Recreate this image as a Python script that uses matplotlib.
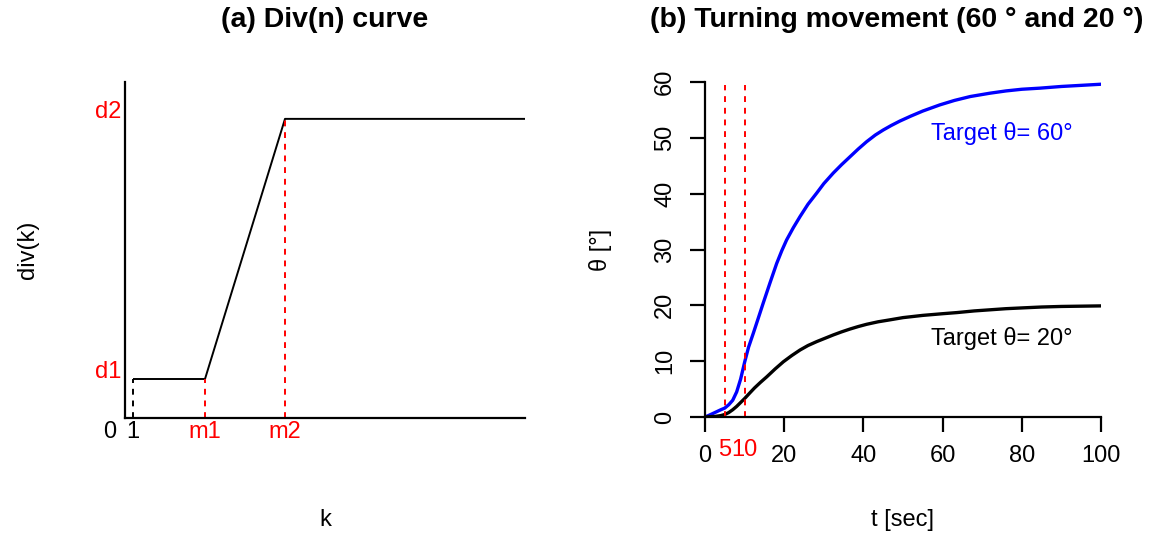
import numpy as np
import matplotlib
matplotlib.use("Agg")
import matplotlib.pyplot as plt
from matplotlib.transforms import blended_transform_factory

plt.rcParams["font.family"] = ["Liberation Sans", "DejaVu Sans"]

#========= Data =========
# (a) Div(n) curve
d1, d2 = 1.0, 7.67
m1, m2 = 10, 20
k_end = 50
div_k = [1, m1, m2, k_end]
div_v = [d1, d1, d2, d2]

# (b) turning movement
t_blue = [0, 1, 2.5, 4, 5, 6, 7, 8, 9, 10, 11, 12.2, 13.5, 14.7, 16.4, 18.1,
          19.4, 20.6, 22.3, 24, 26, 28.2, 30, 32.4, 34.5, 36.6, 38.7, 40.8,
          43, 45, 47, 49.2, 52, 55, 59.3, 63, 67, 72, 76, 80, 84.6, 90, 95, 100]
theta_60 = [0, 0.3, 0.8, 1.3, 1.6, 2.2, 3.0, 4.5, 6.8, 9.8, 12.5, 15.0, 17.8,
            20.4, 24.0, 27.5, 29.8, 31.7, 33.9, 35.9, 38.1, 40.1, 41.8, 43.7,
            45.2, 46.6, 48.0, 49.3, 50.5, 51.4, 52.2, 53.0, 53.9, 54.8, 55.9,
            56.7, 57.4, 58.0, 58.4, 58.7, 58.9, 59.2, 59.4, 59.6]
t_black = [0, 2.5, 4, 5, 6, 7, 8, 9, 10, 11.3, 12.5, 14, 15.6, 17.7, 19.8,
           21.9, 24, 26, 28.2, 30.3, 32.4, 34.5, 36.6, 38.7, 40.8, 43.7, 46.7,
           50, 55, 60, 63.6, 68, 72, 76, 80.4, 85, 90, 95, 100]
theta_20 = [0, 0.1, 0.25, 0.45, 0.8, 1.3, 1.9, 2.6, 3.3, 4.3, 5.2, 6.2, 7.2,
            8.6, 9.9, 11.0, 12.0, 12.8, 13.5, 14.1, 14.7, 15.25, 15.75, 16.2,
            16.6, 17.05, 17.4, 17.8, 18.2, 18.5, 18.7, 19.0, 19.2, 19.4, 19.55,
            19.7, 19.8, 19.85, 19.9]
vlines_t = [5, 10]
x_ticks = [0, 20, 40, 60, 80, 100]
y_ticks = [0, 10, 20, 30, 40, 50, 60]

W, H = 1154, 539
fig = plt.figure(figsize=(W / 100, H / 100), dpi=100)


def px_axes(x0, y0, x1, y1):
    # pixel box (top-left origin) -> figure axes
    return fig.add_axes([x0 / W, 1 - y1 / H, (x1 - x0) / W, (y1 - y0) / H])


FS = 17

#========= (a) =========
ax1 = px_axes(125, 82, 525, 418)
ax1.plot(div_k, div_v, color="black", lw=1.4, solid_capstyle="butt")
ax1.plot([1, 1], [0, d1], color="black", ls=(0, (3, 3)), lw=1.4)
ax1.plot([m1, m1], [0, d1], color="red", ls=(0, (3, 3)), lw=1.4)
ax1.plot([m2, m2], [0, d2], color="red", ls=(0, (3, 3)), lw=1.4)
ax1.set_xlim(0, k_end)
ax1.set_ylim(0, 336 / 39)
for s in ["top", "right"]:
    ax1.spines[s].set_visible(False)
for s in ["left", "bottom"]:
    ax1.spines[s].set_linewidth(1.6)
ax1.set_xticks([])
ax1.set_yticks([])
bx = blended_transform_factory(ax1.transData, ax1.transAxes)
for x, lab, c in [(-1.9, "0", "black"), (1, "1", "black"), (m1, "m1", "red"), (m2, "m2", "red")]:
    ax1.text(x, -0.042, lab, transform=bx, ha="center", va="center", fontsize=FS, color=c)
by = blended_transform_factory(ax1.transAxes, ax1.transData)
for y, lab in [(d1, "d1"), (d2, "d2")]:
    ax1.text(-0.01, y + 0.18, lab, transform=by, ha="right", va="center", fontsize=FS, color="red")
fig.text(28 / W, 1 - 250 / H, "div(k)", rotation=90, ha="center", va="center", fontsize=FS)
fig.text(325 / W, 1 - 520 / H, "k", ha="center", va="center", fontsize=FS)
fig.text(325 / W, 1 - 20 / H, "(a) Div(n) curve", ha="center", va="center",
         fontsize=20.5, fontweight="bold")

#========= (b) =========
ax2 = px_axes(705, 82, 1101, 417)
ax2.plot(t_blue, theta_60, color="blue", lw=2.4)
ax2.plot(t_black, theta_20, color="black", lw=2.4)
for v in vlines_t:
    ax2.plot([v, v], [0, 59.5], color="red", ls=(0, (3, 3)), lw=1.4)
ax2.set_xlim(0, 100)
ax2.set_ylim(0, 60)
for s in ["top", "right"]:
    ax2.spines[s].set_visible(False)
for s in ["left", "bottom"]:
    ax2.spines[s].set_linewidth(1.6)
ax2.set_xticks(x_ticks)
ax2.set_xticklabels([str(v) for v in x_ticks])
ax2.set_yticks(y_ticks)
ax2.set_yticklabels([str(v) for v in y_ticks], rotation=90, va="center")
ax2.tick_params(direction="out", length=10.8, width=1.6, labelsize=FS)
ax2.tick_params(axis="x", pad=9)
ax2.tick_params(axis="y", pad=10)
ax2.spines["left"].set_bounds(0, 60)
bx2 = blended_transform_factory(ax2.transData, ax2.transAxes)
ax2.text(5, -0.1, "5", transform=bx2, ha="center", va="center", fontsize=FS, color="red")
ax2.text(10, -0.1, "10", transform=bx2, ha="center", va="center", fontsize=FS, color="red")
ax2.text(75, 50.8, "Target \u03b8= 60\u00b0", ha="center", va="center", fontsize=FS, color="blue")
ax2.text(75, 14.0, "Target \u03b8= 20\u00b0", ha="center", va="center", fontsize=FS, color="black")
fig.text(600 / W, 1 - 250 / H, "\u03b8 [\u00b0]", rotation=90, ha="center", va="center", fontsize=FS)
fig.text(903 / W, 1 - 520 / H, "t [sec]", ha="center", va="center", fontsize=FS)
fig.text(897 / W, 1 - 20 / H, "(b) Turning movement (60 \u00b0 and 20 \u00b0)",
         ha="center", va="center", fontsize=20.5, fontweight="bold")

fig.savefig("out.png", dpi=100)
